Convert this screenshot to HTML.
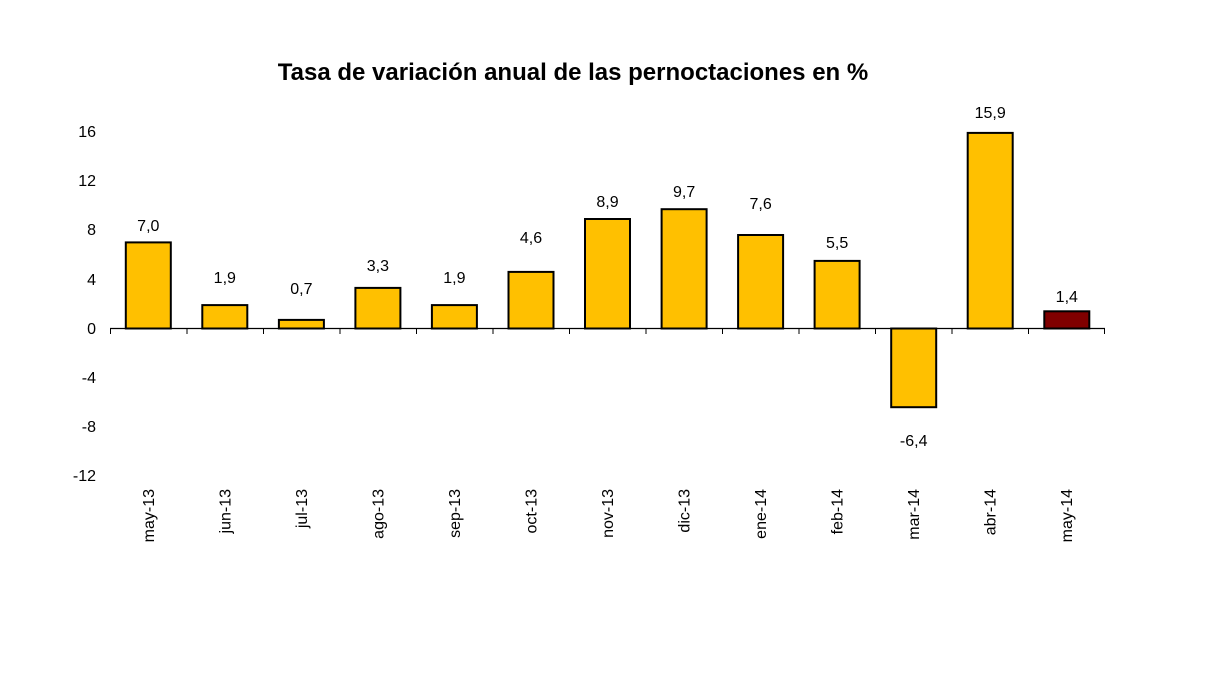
<!DOCTYPE html>
<html><head><meta charset="utf-8"><style>body{margin:0;background:#fff}</style></head>
<body>
<svg width="1221" height="677" xmlns="http://www.w3.org/2000/svg" font-family="Liberation Sans, Arial, sans-serif">
<rect width="1221" height="677" fill="#fff"/>
<text x="573" y="80" font-size="24" font-weight="bold" text-anchor="middle">Tasa de variación anual de las pernoctaciones en %</text>
<g font-size="16" text-anchor="end">
<text x="96" y="137">16</text>
<text x="96" y="186">12</text>
<text x="96" y="235">8</text>
<text x="96" y="285">4</text>
<text x="96" y="334">0</text>
<text x="96" y="383">-4</text>
<text x="96" y="432">-8</text>
<text x="96" y="481">-12</text>
</g>
<g stroke="#000" stroke-width="2" fill="#FFC000">
<rect x="125.8" y="242.4" width="45" height="86.1"/>
<rect x="202.3" y="305.1" width="45" height="23.4"/>
<rect x="278.9" y="319.9" width="45" height="8.6"/>
<rect x="355.4" y="287.9" width="45" height="40.6"/>
<rect x="431.9" y="305.1" width="45" height="23.4"/>
<rect x="508.5" y="271.9" width="45" height="56.6"/>
<rect x="585.0" y="219.0" width="45" height="109.5"/>
<rect x="661.6" y="209.2" width="45" height="119.3"/>
<rect x="738.1" y="235.0" width="45" height="93.5"/>
<rect x="814.6" y="260.9" width="45" height="67.6"/>
<rect x="891.2" y="328.5" width="45" height="78.7"/>
<rect x="967.7" y="132.9" width="45" height="195.6"/>
<rect x="1044.3" y="311.3" width="45" height="17.2" fill="#800000"/>
</g>
<g font-size="16" text-anchor="middle">
<text x="148.3" y="231">7,0</text>
<text x="224.8" y="283">1,9</text>
<text x="301.4" y="294">0,7</text>
<text x="377.9" y="271">3,3</text>
<text x="454.4" y="283">1,9</text>
<text x="531.0" y="243">4,6</text>
<text x="607.5" y="207">8,9</text>
<text x="684.1" y="197">9,7</text>
<text x="760.6" y="209">7,6</text>
<text x="837.1" y="248">5,5</text>
<text x="913.7" y="446">-6,4</text>
<text x="990.2" y="118">15,9</text>
<text x="1066.8" y="302">1,4</text>
</g>
<g font-size="16" text-anchor="end">
<text transform="translate(154,489) rotate(-90)">may-13</text>
<text transform="translate(230.5,489) rotate(-90)">jun-13</text>
<text transform="translate(307,489) rotate(-90)">jul-13</text>
<text transform="translate(383.5,489) rotate(-90)">ago-13</text>
<text transform="translate(460,489) rotate(-90)">sep-13</text>
<text transform="translate(536.5,489) rotate(-90)">oct-13</text>
<text transform="translate(613,489) rotate(-90)">nov-13</text>
<text transform="translate(689.5,489) rotate(-90)">dic-13</text>
<text transform="translate(766,489) rotate(-90)">ene-14</text>
<text transform="translate(842.5,489) rotate(-90)">feb-14</text>
<text transform="translate(919,489) rotate(-90)">mar-14</text>
<text transform="translate(995.5,489) rotate(-90)">abr-14</text>
<text transform="translate(1072,489) rotate(-90)">may-14</text>
</g>
<g stroke="#000" stroke-width="1">
<line x1="110" y1="328.5" x2="1105" y2="328.5" stroke-width="1.3"/>
<line x1="110.5" y1="328" x2="110.5" y2="334"/>
<line x1="187" y1="328" x2="187" y2="334"/>
<line x1="263.5" y1="328" x2="263.5" y2="334"/>
<line x1="340" y1="328" x2="340" y2="334"/>
<line x1="416.5" y1="328" x2="416.5" y2="334"/>
<line x1="493" y1="328" x2="493" y2="334"/>
<line x1="569.5" y1="328" x2="569.5" y2="334"/>
<line x1="646" y1="328" x2="646" y2="334"/>
<line x1="722.5" y1="328" x2="722.5" y2="334"/>
<line x1="799" y1="328" x2="799" y2="334"/>
<line x1="875.5" y1="328" x2="875.5" y2="334"/>
<line x1="952" y1="328" x2="952" y2="334"/>
<line x1="1028.5" y1="328" x2="1028.5" y2="334"/>
<line x1="1104.5" y1="328" x2="1104.5" y2="334"/>
</g>
</svg>
</body></html>
